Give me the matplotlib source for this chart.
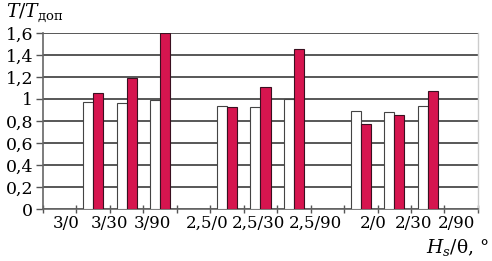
import numpy as np
import matplotlib
matplotlib.use('Agg')
import matplotlib.pyplot as plt
from matplotlib.ticker import FixedLocator, FuncFormatter

plt.rcParams['font.family'] = ['DejaVu Serif']
plt.rcParams['mathtext.fontset'] = 'custom'
plt.rcParams['mathtext.rm'] = 'DejaVu Serif'
plt.rcParams['mathtext.it'] = 'DejaVu Serif:italic'

# 数据：13 个位置，空位为 NaN
slots = ['', '3/0', '3/30', '3/90', '', '2,5/0', '2,5/30', '2,5/90', '', '2/0', '2/30', '2/90', '']
white_vals = [np.nan, 0.97, 0.96, 0.99, np.nan, 0.94, 0.93, 1.00, np.nan, 0.89, 0.88, 0.94, np.nan]
red_vals = [np.nan, 1.05, 1.19, 1.60, np.nan, 0.93, 1.11, 1.45, np.nan, 0.77, 0.85, 1.07, np.nan]
tick_labels = ['3/0', '3/30', '3/90', '2,5/0', '2,5/30', '2,5/90', '2/0', '2/30', '2/90']
y_ticks = [0, 0.2, 0.4, 0.6, 0.8, 1.0, 1.2, 1.4, 1.6]

# 标签位置（与原图对齐）
label_x = [0.19, 1.48, 2.76, 4.41, 5.95, 7.63, 9.38, 10.58, 11.87]

fig = plt.figure(figsize=(4.92, 2.61), dpi=100)
ax = fig.add_axes([0.0874, 0.199, 0.884, 0.675])

x = np.arange(len(slots))
w = 0.3
ax.bar(x - w / 2, white_vals, width=w, color='white', edgecolor='#444444', linewidth=0.8, zorder=3)
ax.bar(x + w / 2, red_vals, width=w, color='#d6154f', edgecolor='#3a1020', linewidth=0.8, zorder=3)

ax.set_xlim(-0.5, len(slots) - 0.5)
ax.set_ylim(0, 1.6)
ax.set_yticks(y_ticks)
ax.yaxis.set_major_formatter(FuncFormatter(lambda v, p: ('%g' % round(v, 1)).replace('.', ',')))
ax.yaxis.grid(True, color='#2a2a2a', linewidth=1.1, zorder=0)
ax.tick_params(axis='y', length=5, width=1, color='#555555', labelsize=12.5, pad=2)

ax.xaxis.set_major_locator(FixedLocator(np.arange(-0.5, len(slots))))
ax.xaxis.set_major_formatter(FuncFormatter(lambda v, p: ''))
ax.xaxis.set_minor_locator(FixedLocator(label_x))
ax.set_xticklabels(tick_labels, minor=True)
ax.tick_params(axis='x', which='major', direction='inout', length=6, width=1, color='#555555')
ax.tick_params(axis='x', which='minor', length=0, labelsize=12, pad=4)

for s in ['left', 'bottom']:
    ax.spines[s].set_color('#666666')
    ax.spines[s].set_linewidth(1.2)
ax.spines['top'].set_visible(False)
ax.spines['right'].set_color('#cccccc')
ax.spines['right'].set_linewidth(1.0)

fig.text(0.012, 0.935, r'$T/T_{\mathrm{доп}}$', fontsize=13.5, ha='left', va='baseline')
fig.text(0.995, 0.03, r'$H_s/\mathrm{\theta},\,\mathrm{°}$', fontsize=13.5, ha='right', va='baseline')

fig.savefig('out.png', dpi=100)
